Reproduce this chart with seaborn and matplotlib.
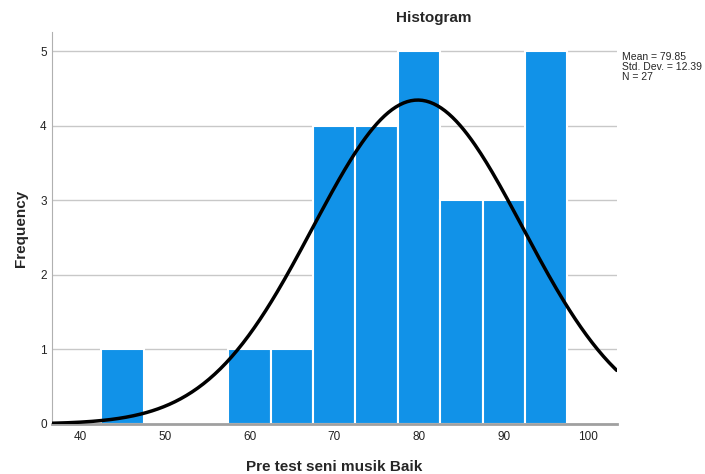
import numpy as np
import pandas as pd
import matplotlib
matplotlib.use("Agg")
import matplotlib.pyplot as plt
import seaborn as sns

centros_bin = [45, 60, 65, 70, 75, 80, 85, 90, 95]
frecuencias = [1, 1, 1, 4, 4, 5, 3, 3, 5]
bordes_bin = [42.5, 47.5, 52.5, 57.5, 62.5, 67.5, 72.5, 77.5, 82.5, 87.5, 92.5, 97.5]
ticks_x = [40, 50, 60, 70, 80, 90, 100]
ticks_y = [0, 1, 2, 3, 4, 5]

media = 79.85
desv_std = 12.39
n_total = 27
ancho_bin = 5

sns.set_style("white")
plt.rcParams['font.family'] = ['Liberation Sans', 'DejaVu Sans']

fig = plt.figure(figsize=(7.05, 4.74), dpi=100)
ax = fig.add_axes([0.0742, 0.1055, 0.8006, 0.827])

df = pd.DataFrame({'valor': centros_bin, 'frecuencia': frecuencias})
sns.histplot(data=df, x='valor', weights='frecuencia', bins=bordes_bin, ax=ax,
             color='#1192e8', alpha=1, edgecolor='white', linewidth=1.5, zorder=2)

# Curva normal con la media y desviacion reportadas
x_curva = np.linspace(36.7, 103.35, 300)
y_curva = n_total * ancho_bin / (desv_std * np.sqrt(2 * np.pi)) * np.exp(-0.5 * ((x_curva - media) / desv_std) ** 2)
sns.lineplot(x=x_curva, y=y_curva, ax=ax, color='black', linewidth=2.5, zorder=3)

ax.set_xlim(36.7, 103.35)
ax.set_ylim(0, 5.26)
ax.set_xticks(ticks_x)
ax.set_yticks(ticks_y)
ax.tick_params(axis='both', length=0, labelsize=8.5, colors='#222222')
ax.tick_params(axis='x', pad=5)
ax.tick_params(axis='y', pad=4)
ax.yaxis.grid(True, color='#c8c8c8', linewidth=1, zorder=0)
ax.set_axisbelow(True)
for lado in ['top', 'right']:
    ax.spines[lado].set_visible(False)
ax.spines['left'].set_color('#b0b0b0')
ax.spines['bottom'].set_color('#a0a0a0')
ax.spines['bottom'].set_linewidth(2)

ax.set_xlabel('Pre test seni musik Baik', fontsize=11, fontweight='bold', labelpad=12)
ax.set_ylabel('Frequency', fontsize=11, fontweight='bold', labelpad=9)

fig.text(434 / 705, 1 - 18 / 474, 'Histogram', fontsize=11, fontweight='bold', ha='center', va='center')
fig.text(622 / 705, 1 - 52 / 474, 'Mean = 79.85\nStd. Dev. = 12.39\nN = 27',
         fontsize=7.5, ha='left', va='top', linespacing=1.0)

fig.savefig('out.png', dpi=100)
